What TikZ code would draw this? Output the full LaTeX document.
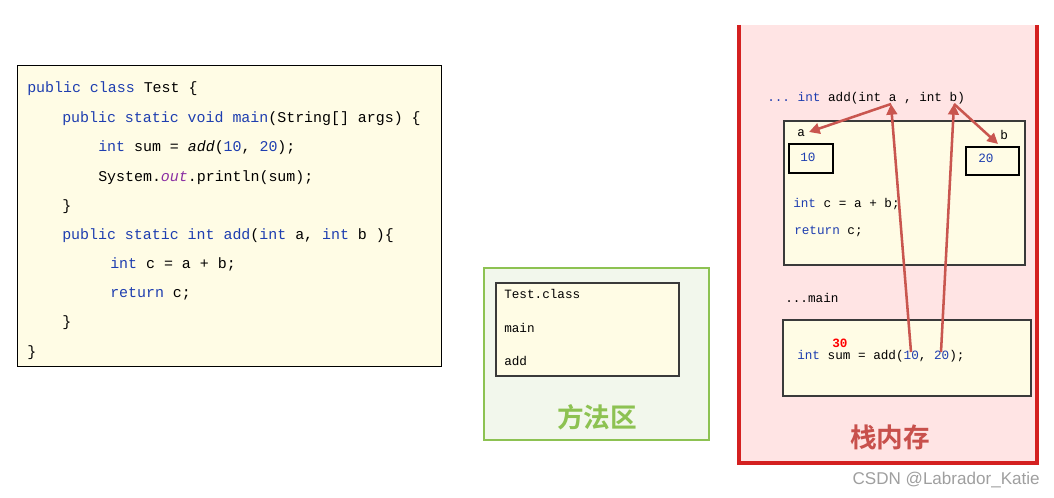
\documentclass[tikz,border=0pt]{standalone}
\usepackage{fontspec}
\setmainfont{Liberation Sans}
\setmonofont{Liberation Mono}
\newfontfamily\cjk{Noto Sans CJK SC}[BoldFont={Noto Sans CJK SC Bold}]
\usetikzlibrary{arrows.meta}
\definecolor{kwblue}{HTML}{1E3EB0}
\definecolor{fldpurple}{HTML}{8B2FA3}
\definecolor{cream}{HTML}{FFFCE5}
\definecolor{greenline}{HTML}{8DC252}
\definecolor{greenfill}{HTML}{F2F7EC}
\definecolor{greentext}{HTML}{8DC252}
\definecolor{stackred}{HTML}{D42020}
\definecolor{stackfill}{HTML}{FFE4E4}
\definecolor{stacktext}{HTML}{C8504C}
\definecolor{arrowred}{HTML}{C9564F}
\definecolor{boxgray}{HTML}{3A3A3A}
\newcommand\kw[1]{\textcolor{kwblue}{#1}}
\newcommand\fld[1]{\textcolor{fldpurple}{\itshape #1}}
\tikzset{
  bigcode/.style={anchor=base west, inner sep=0pt, font=\ttfamily\fontsize{11.2}{13}\selectfont},
  smallcode/.style={anchor=base west, inner sep=0pt, font=\ttfamily\fontsize{9.5}{11}\selectfont},
  codebox/.style={draw=black, line width=0.75pt, fill=cream},
  framebox/.style={draw=boxgray, line width=0.8pt, fill=cream},
  valbox/.style={draw=black, line width=1.3pt},
  passarrow/.style={draw=arrowred, line width=1.9pt, -{Triangle[length=8pt,width=8pt]}},
  cjktitle/.style={inner sep=0pt, font=\cjk\bfseries\fontsize{20}{22}\selectfont},
}
\begin{document}
\begin{tikzpicture}[x=0.75pt,y=-0.75pt]
\useasboundingbox (0,0) rectangle (1054,498);
% ---------- source code ----------
\path[codebox] (17,66) rectangle (441,367);
\node[bigcode] (l1) at (27,93) {\kw{public class} Test \{};
\node[bigcode] (l2) at (62,123) {\kw{public static void main}(String[] args) \{};
\node[bigcode] (l3) at (98,152) {\kw{int} sum = \textit{add}(\kw{10}, \kw{20});};
\node[bigcode] (l4) at (98,182) {System.\fld{out}.println(sum);};
\node[bigcode] (l5) at (62,211) {\}};
\node[bigcode] (l6) at (62,240) {\kw{public static int add}(\kw{int} a, \kw{int} b )\{};
\node[bigcode] (l7) at (110,269) {\kw{int} c = a + b;};
\node[bigcode] (l8) at (110,298) {\kw{return} c;};
\node[bigcode] (l9) at (62,327) {\}};
\node[bigcode] (l10) at (27,357) {\}};
% ---------- method area ----------
\path[draw=greenline, line width=2.2pt, fill=greenfill] (484,268) rectangle (709,440);
\path[codebox, draw=boxgray, line width=0.9pt] (496,283) rectangle (679,376);
\node[smallcode] (tc) at (504,299) {Test.class};
\node[smallcode] (mm) at (504,333) {main};
\node[smallcode] (ma) at (504,366) {add};
\node[cjktitle, text=greentext] (mtitle) at (597,417) {方法区};
% ---------- stack ----------
\fill[stackfill] (739,25) rectangle (1037,463);
\draw[stackred, line width=2.6pt] (739,25) -- (739,463) -- (1037,463) -- (1037,25);
\node[smallcode] (hdr) at (767,102) {\kw{... int} add(int a , int b)};
\path[framebox] (784,121) rectangle (1025,265);
\node[smallcode] (la) at (797,137) {a};
\node[smallcode] (lb) at (1000,140) {b};
\node[valbox, minimum width=44*0.75pt, minimum height=29*0.75pt, inner sep=0pt] (boxa) at (811,158.5) {};
\node[valbox, minimum width=53*0.75pt, minimum height=28*0.75pt, inner sep=0pt] (boxb) at (992.5,161) {};
\node[smallcode] (va) at (800,162) {\kw{10}};
\node[smallcode] (vb) at (978,163) {\kw{20}};
\node[smallcode] (cc) at (793,208) {\kw{int} c = a + b;};
\node[smallcode] (rc) at (794,235) {\kw{return} c;};
\node[smallcode] (mainlbl) at (785,303) {...main};
\path[framebox] (783,320) rectangle (1031,396);
\node[smallcode] (call) at (797,360) {\kw{int} sum = add(\kw{10}, \kw{20});};
\node[smallcode, font=\ttfamily\bfseries\fontsize{9.5}{11}\selectfont, text=red] (res) at (832,347.5) {30};
\node[cjktitle, text=stacktext] (stitle) at (890,437) {栈内存};
% ---------- parameter passing ----------
\coordinate (hA) at (891,104);
\coordinate (hB) at (954,104);
\coordinate (tA) at (809,132);
\coordinate (tB) at (998,144);
\coordinate (c10) at (911,352);
\coordinate (c20) at (941,352);
\draw[passarrow] (hA) -- (tA);
\draw[passarrow] (hB) -- (tB);
\draw[passarrow] (c10) -- (hA);
\draw[passarrow] (c20) -- (hB);
% ---------- watermark ----------
\node[anchor=base east, inner sep=0pt, text=gray!75, font=\fontsize{12.8}{14}\selectfont] (wm) at (1040,485) {CSDN @Labrador\_Katie};
\end{tikzpicture}
\end{document}
